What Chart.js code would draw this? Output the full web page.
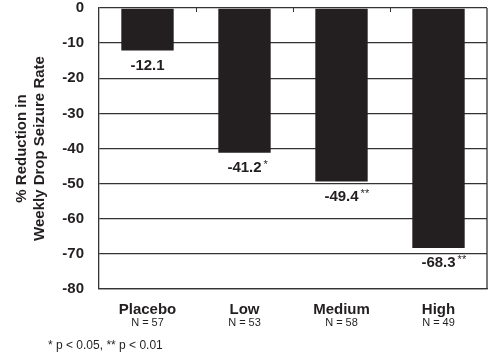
<!DOCTYPE html>
<html>
<head>
<meta charset="utf-8">
<script src="https://cdn.jsdelivr.net/npm/chart.js@4"></script>
<style>
  html, body { margin: 0; padding: 0; background: #fff; }
  #wrap { width: 494px; height: 364px; }
</style>
</head>
<body>
<div id="wrap"><canvas id="chart" width="494" height="364"></canvas></div>
<script>
// --- DATA ---
const doseGroups = ['Placebo', 'Low', 'Medium', 'High'];
const groupSizes = [57, 53, 58, 49];
const reductions = [-12.1, -41.2, -49.4, -68.3];
const significance = ['', '*', '**', '**'];
const footnote = '* p < 0.05, ** p < 0.01';

const INK = '#231f20';
const FONT = '"Liberation Sans", Arial, sans-serif';

// --- PLUGIN: labels, frame, footnote ---
const annotate = {
    id: 'annotate',
    afterDatasetsDraw(chart) {
        const ctx = chart.ctx;
        const area = chart.chartArea;
        const xs = chart.scales.x;
        const bars = chart.getDatasetMeta(0).data;
        ctx.save();

        // right edge of the frame
        ctx.strokeStyle = '#333';
        ctx.lineWidth = 1.3;
        ctx.beginPath();
        ctx.moveTo(area.right, area.top);
        ctx.lineTo(area.right, area.bottom);
        ctx.stroke();

        // small category ticks along the top
        const step = xs.getPixelForValue(1) - xs.getPixelForValue(0);
        ctx.lineWidth = 1;
        for (let i = 0; i < doseGroups.length - 1; i++) {
            const x = Math.round(xs.getPixelForValue(i) + step / 2) + 0.5;
            ctx.beginPath();
            ctx.moveTo(x, area.top);
            ctx.lineTo(x, area.top + 4);
            ctx.stroke();
        }

        // value labels below each bar
        ctx.fillStyle = INK;
        bars.forEach((bar, i) => {
            const text = reductions[i].toFixed(1);
            ctx.font = 'bold 15px ' + FONT;
            ctx.textAlign = 'center';
            ctx.textBaseline = 'middle';
            const y = bar.y + 15;
            ctx.fillText(text, bar.x, y);
            if (significance[i]) {
                const w = ctx.measureText(text).width;
                ctx.font = '11px ' + FONT;
                ctx.textAlign = 'left';
                ctx.fillText(significance[i], bar.x + w / 2 + 2, y - 3);
            }
        });

        // category labels with group sizes
        doseGroups.forEach((name, i) => {
            const x = xs.getPixelForValue(i);
            ctx.textAlign = 'center';
            ctx.textBaseline = 'middle';
            ctx.font = 'bold 15px ' + FONT;
            ctx.fillText(name, x, area.bottom + 21);
            ctx.font = '11px ' + FONT;
            ctx.fillText('N = ' + groupSizes[i], x, area.bottom + 34);
        });

        // footnote
        ctx.font = '12px ' + FONT;
        ctx.textAlign = 'left';
        ctx.fillText(footnote, 48, 346);
        ctx.restore();
    }
};

// --- CHART ---
new Chart(document.getElementById('chart'), {
    type: 'bar',
    data: {
        labels: doseGroups,
        datasets: [{
            data: reductions,
            backgroundColor: INK,
            borderWidth: 0,
            barPercentage: 0.54,
            categoryPercentage: 1
        }]
    },
    options: {
        responsive: false,
        animation: false,
        layout: { padding: { top: 8, right: 7, bottom: 75, left: 0 } },
        plugins: {
            legend: { display: false },
            tooltip: { enabled: false }
        },
        scales: {
            x: {
                grid: { display: false },
                border: { display: true, color: '#333', width: 1.3 },
                ticks: { display: false },
                afterFit(scale) { scale.height = 0; }
            },
            y: {
                min: -80,
                max: 0,
                ticks: {
                    stepSize: 10,
                    color: INK,
                    padding: 15,
                    font: { family: FONT, size: 15, weight: 'bold', lineHeight: 1 }
                },
                grid: { color: '#333', lineWidth: 1.3, drawTicks: false },
                border: { display: true, color: '#333', width: 1.3 },
                title: {
                    display: true,
                    text: ['% Reduction in', 'Weekly Drop Seizure Rate'],
                    color: INK,
                    padding: { top: 12, bottom: 0 },
                    font: { family: FONT, size: 15, weight: 'bold', lineHeight: 1.25 }
                },
                afterFit(scale) {
                    scale.width = 99;
                    scale.paddingTop = 0;
                    scale.paddingBottom = 0;
                }
            }
        }
    },
    plugins: [annotate]
});
</script>
</body>
</html>
